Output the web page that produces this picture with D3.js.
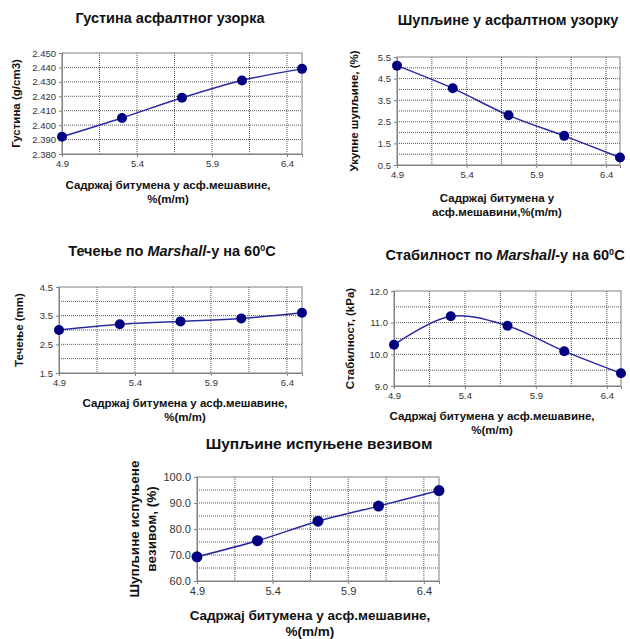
<!DOCTYPE html>
<html>
<head>
<meta charset="utf-8">
<script src="https://cdn.jsdelivr.net/npm/d3@7"></script>
<style>
  body { margin: 0; background: #fff; }
  text { font-family: Arial, "Liberation Sans", sans-serif; }
</style>
</head>
<body>
<div id="viz_container"></div>
<script>
// the data
const bitumen = [4.9, 5.3, 5.7, 6.1, 6.5];
const density = [2.392, 2.405, 2.419, 2.431, 2.439];
const voids = [5.1, 4.05, 2.8, 1.85, 0.85];
const flow = [3.0, 3.2, 3.3, 3.4, 3.6];
const stability = [10.3, 11.2, 10.9, 10.1, 9.4];
const filled = [69.3, 75.5, 83.0, 88.8, 94.8];
const xTickLabels = [4.9, 5.4, 5.9, 6.4];
const xGrid = [5.15, 5.4, 5.65, 5.9, 6.15, 6.4];

const svg = d3.select("#viz_container")
  .append("svg")
    .attr("width", 630)
    .attr("height", 639);

// one panel per chart (sizes: title, axis titles, ticks, marker radius)
const panels = [
  { values: density, yDomain: [2.38, 2.45], yTicks: d3.range(2.38, 2.4501, 0.01), yGrid: d3.range(2.39, 2.445, 0.01), fmt: ".3f",
    box: [62, 53, 302, 154], title: "Густина асфалтног узорка", titleXY: [170, 23],
    xTitle: ["Садржај битумена у асф.мешавине,", "%(m/m)"], xTitleXY: [168, 189], yTitle: ["Густина (g/cm3)"], yTitleX: [20],
    sz: [14.5, 11.5, 9.5, 5] },
  { values: voids, yDomain: [0.5, 5.5], yTicks: [0.5, 1.5, 2.5, 3.5, 4.5, 5.5], yGrid: d3.range(1.0, 5.3, 0.5), fmt: ".1f",
    box: [397, 57, 620, 165], title: "Шупљине у асфалтном узорку", titleXY: [508, 25],
    xTitle: ["Садржај  битумена  у", "асф.мешавини,%(m/m)"], xTitleXY: [497, 202], yTitle: ["Укупне шупљине,  (%)"], yTitleX: [358],
    sz: [14.5, 11.5, 9.5, 5] },
  { values: flow, yDomain: [1.5, 4.5], yTicks: [1.5, 2.5, 3.5, 4.5], yGrid: d3.range(2.0, 4.3, 0.5), fmt: ".1f",
    box: [59, 287, 302, 373], title: ["Течење по ", "Marshall", "-у на 60", "0", "C"], titleXY: [172, 256],
    xTitle: ["Садржај битумена у асф.мешавине,", "%(m/m)"], xTitleXY: [185, 407], yTitle: ["Течење (mm)"], yTitleX: [23],
    sz: [14.5, 11.5, 9.5, 5] },
  { values: stability, yDomain: [9, 12], yTicks: [9, 10, 11, 12], yGrid: d3.range(9.5, 11.8, 0.5), fmt: ".1f",
    box: [394, 291, 621, 386], title: ["Стабилност по ", "Marshall", "-у на 60", "0", "C"], titleXY: [505, 260],
    xTitle: ["Садржај битумена у асф.мешавине,", "%(m/m)"], xTitleXY: [492, 420], yTitle: ["Стабилност, (kPa)"], yTitleX: [354],
    sz: [14.5, 11.5, 9.5, 5] },
  { values: filled, yDomain: [60, 100], yTicks: [60, 70, 80, 90, 100], yGrid: d3.range(65, 99, 5), fmt: ".1f",
    box: [197, 477, 439, 581], title: "Шупљине испуњене везивом", titleXY: [319, 449],
    xTitle: ["Садржај битумена у асф.мешавине,", "%(m/m)"], xTitleXY: [310, 620], yTitle: ["Шупљине испуњене", "везивом, (%)"], yTitleX: [139, 156],
    sz: [15.5, 13.5, 11, 5.5] }
];

panels.forEach(p => {
  const [x0, y0, x1, y1] = p.box;
  const [titleSize, axisSize, tickSize, r] = p.sz;
  const g = svg.append("g");
  const xScale = d3.scaleLinear().domain([4.9, 6.5]).range([x0, x1]);
  const yScale = d3.scaleLinear().domain(p.yDomain).range([y1, y0]);

  // dotted grid
  g.selectAll(".vg").data(xGrid).join("line")
    .attr("x1", d => xScale(d)).attr("x2", d => xScale(d))
    .attr("y1", y0).attr("y2", y1)
    .attr("stroke", "#555").attr("stroke-dasharray", "1,1");
  g.selectAll(".hg").data(p.yGrid).join("line")
    .attr("x1", x0).attr("x2", x1)
    .attr("y1", d => yScale(d)).attr("y2", d => yScale(d))
    .attr("stroke", "#555").attr("stroke-dasharray", "1,1");

  // frame
  g.append("rect")
    .attr("x", x0).attr("y", y0).attr("width", x1 - x0).attr("height", y1 - y0)
    .attr("fill", "none").attr("stroke", "#808080");

  // axes
  g.append("g")
    .attr("transform", `translate(0, ${y1})`)
    .call(d3.axisBottom(xScale).tickValues(xTickLabels).tickSize(3).tickPadding(3).tickFormat(d3.format(".1f")))
    .call(a => a.select(".domain").attr("stroke", "#808080"))
    .call(a => a.selectAll(".tick line").attr("stroke", "#808080"))
    .call(a => a.selectAll("text").attr("fill", "#333").style("font-size", tickSize + "px"));
  g.append("g")
    .attr("transform", `translate(${x0}, 0)`)
    .call(d3.axisLeft(yScale).tickValues(p.yTicks).tickSize(3).tickPadding(3).tickFormat(d3.format(p.fmt)))
    .call(a => a.select(".domain").attr("stroke", "#808080"))
    .call(a => a.selectAll(".tick line").attr("stroke", "#808080"))
    .call(a => a.selectAll("text").attr("fill", "#333").style("font-size", tickSize + "px"));

  // smoothed line and markers
  const pts = bitumen.map((b, i) => [b, p.values[i]]);
  g.append("path")
    .datum(pts)
    .attr("d", d3.line().x(d => xScale(d[0])).y(d => yScale(d[1])).curve(d3.curveCatmullRom.alpha(0.5)))
    .attr("fill", "none").attr("stroke", "#2a2aa0").attr("stroke-width", 1.5);
  g.selectAll("circle").data(pts).join("circle")
    .attr("cx", d => xScale(d[0])).attr("cy", d => yScale(d[1]))
    .attr("r", r).attr("fill", "#000080");

  // title
  const t = g.append("text")
    .attr("x", p.titleXY[0]).attr("y", p.titleXY[1])
    .attr("text-anchor", "middle")
    .style("font-weight", "bold").style("font-size", titleSize + "px").attr("fill", "#111");
  if (Array.isArray(p.title)) {
    t.append("tspan").text(p.title[0]);
    t.append("tspan").style("font-style", "italic").text(p.title[1]);
    t.append("tspan").text(p.title[2]);
    t.append("tspan").attr("dy", -5).style("font-size", "9px").text(p.title[3]);
    t.append("tspan").attr("dy", 5).text(p.title[4]);
  } else {
    t.text(p.title);
  }

  // x title
  p.xTitle.forEach((line, i) => {
    g.append("text")
      .attr("x", p.xTitleXY[0]).attr("y", p.xTitleXY[1] + i * axisSize * 1.2)
      .attr("text-anchor", "middle")
      .style("font-weight", "bold").style("font-size", axisSize + "px").attr("fill", "#111")
      .text(line);
  });

  // y title
  const cy = (y0 + y1) / 2;
  p.yTitle.forEach((line, i) => {
    g.append("text")
      .attr("transform", `translate(${p.yTitleX[i]}, ${cy}) rotate(-90)`)
      .attr("text-anchor", "middle")
      .style("font-weight", "bold").style("font-size", axisSize + "px").attr("fill", "#111")
      .text(line);
  });
});
</script>
</body>
</html>
